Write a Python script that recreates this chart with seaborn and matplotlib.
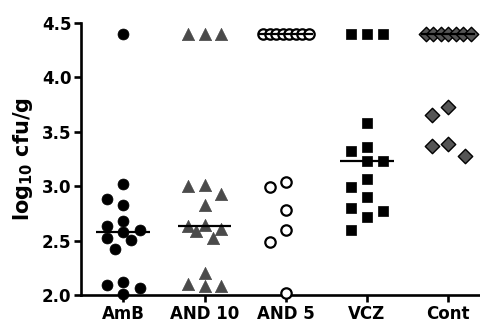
import warnings
warnings.filterwarnings("ignore")
import numpy as np
import pandas as pd
import matplotlib
matplotlib.use("Agg")
import matplotlib.pyplot as plt
import seaborn as sns

groups = ["AmB", "AND 10", "AND 5", "VCZ", "Cont"]
amb = [4.40, 3.02, 2.88, 2.83, 2.68, 2.63, 2.60, 2.58, 2.52, 2.51, 2.42, 2.12, 2.09, 2.06, 2.01]
and10 = [4.40, 4.40, 4.40, 3.01, 3.00, 2.93, 2.83, 2.64, 2.63, 2.61, 2.59, 2.52, 2.20, 2.10, 2.08, 2.08]
and5 = [4.40, 4.40, 4.40, 4.40, 4.40, 4.40, 4.40, 4.40, 3.04, 2.99, 2.78, 2.60, 2.49, 2.02]
vcz = [4.40, 4.40, 4.40, 3.58, 3.36, 3.32, 3.23, 3.23, 3.07, 2.99, 2.90, 2.80, 2.77, 2.72, 2.60]
cont = [4.40, 4.40, 4.40, 4.40, 4.40, 4.40, 4.40, 3.73, 3.65, 3.39, 3.37, 3.28]
yticks = [2.0, 2.5, 3.0, 3.5, 4.0, 4.5]

series = [amb, and10, and5, vcz, cont]

# --- layout geometry (pixels per data unit) used by the column-scatter placement
PX_X = 81.3
PX_Y = 108.8
MIN_D = 16.0
CANDS = [0.0, -0.2, 0.2, 0.1, -0.1]


def column_scatter(values):
    """GraphPad-like column scatter: returns x offsets for each value."""
    vals = np.asarray(values, float)
    order = np.argsort(-vals, kind="stable")
    offs = np.zeros(len(vals))
    placed = []
    i = 0
    while i < len(order):
        v = vals[order[i]]
        tie = [k for k in order[i:] if vals[k] == v]
        if len(tie) >= 4:
            for k, o in zip(tie, np.linspace(-0.28, 0.28, len(tie))):
                offs[k] = o
                placed.append((o, v))
            i += len(tie)
            continue
        k = order[i]
        best, best_d = None, -1
        for c in CANDS:
            d = min([np.hypot((c - po) * PX_X, (v - pv) * PX_Y) for po, pv in placed] + [1e9])
            if d >= MIN_D:
                best = c
                break
            if d > best_d:
                best, best_d = c, d
        offs[k] = best
        placed.append((best, v))
        i += 1
    return offs


rows = []
for gi, (g, v) in enumerate(zip(groups, series)):
    offs = column_scatter(v)
    for val, o in zip(v, offs):
        rows.append({"group": g, "value": val, "xpos": gi + o})
df = pd.DataFrame(rows)

styles = {
    "AmB": dict(marker="o", color="black", edgecolor="black", linewidth=0.5, s=62),
    "AND 10": dict(marker="^", color="#4a4a4a", edgecolor="#4a4a4a", linewidth=0.5, s=78),
    "AND 5": dict(marker="o", color="white", edgecolor="black", linewidth=1.6, s=56),
    "VCZ": dict(marker="s", color="black", edgecolor="black", linewidth=0.5, s=58),
    "Cont": dict(marker="D", color="#555555", edgecolor="black", linewidth=1.0, s=54),
}

sns.set_style("ticks")
plt.rcParams["font.family"] = ["DejaVu Sans"]
fig = plt.figure(figsize=(4.8, 3.23), dpi=100)
ax = fig.add_axes([81 / 480, 28 / 323, 399 / 480, 272 / 323])

for g in groups:
    sub = df[df["group"] == g]
    sns.scatterplot(data=sub, x="xpos", y="value", ax=ax, legend=False,
                    clip_on=False, zorder=5, **styles[g])

for i, g in enumerate(groups):
    med = np.median(df[df["group"] == g]["value"])
    ax.hlines(med, i - 0.33, i + 0.33, color="black", lw=1.6, zorder=6)

ax.set_xlim(-0.52, 4.39)
ax.set_ylim(2.0, 4.5)
ax.set_yticks(yticks)
ax.set_yticklabels([f"{t:.1f}" for t in yticks], fontsize=12, fontweight="bold", color="black")
ax.set_xticks(range(len(groups)))
ax.set_xticklabels(groups, fontsize=12, fontweight="bold", color="black")
ax.set_xlabel("")
ax.set_ylabel(r"log$_{\mathbf{10}}$ cfu/g", fontsize=15, fontweight="bold",
              color="black", labelpad=5)
sns.despine(ax=ax)
for s in ["left", "bottom"]:
    ax.spines[s].set_linewidth(1.9)
    ax.spines[s].set_color("black")
ax.tick_params(axis="both", width=1.9, length=5, direction="out", pad=2, color="black")

fig.savefig("out.png", dpi=100)
